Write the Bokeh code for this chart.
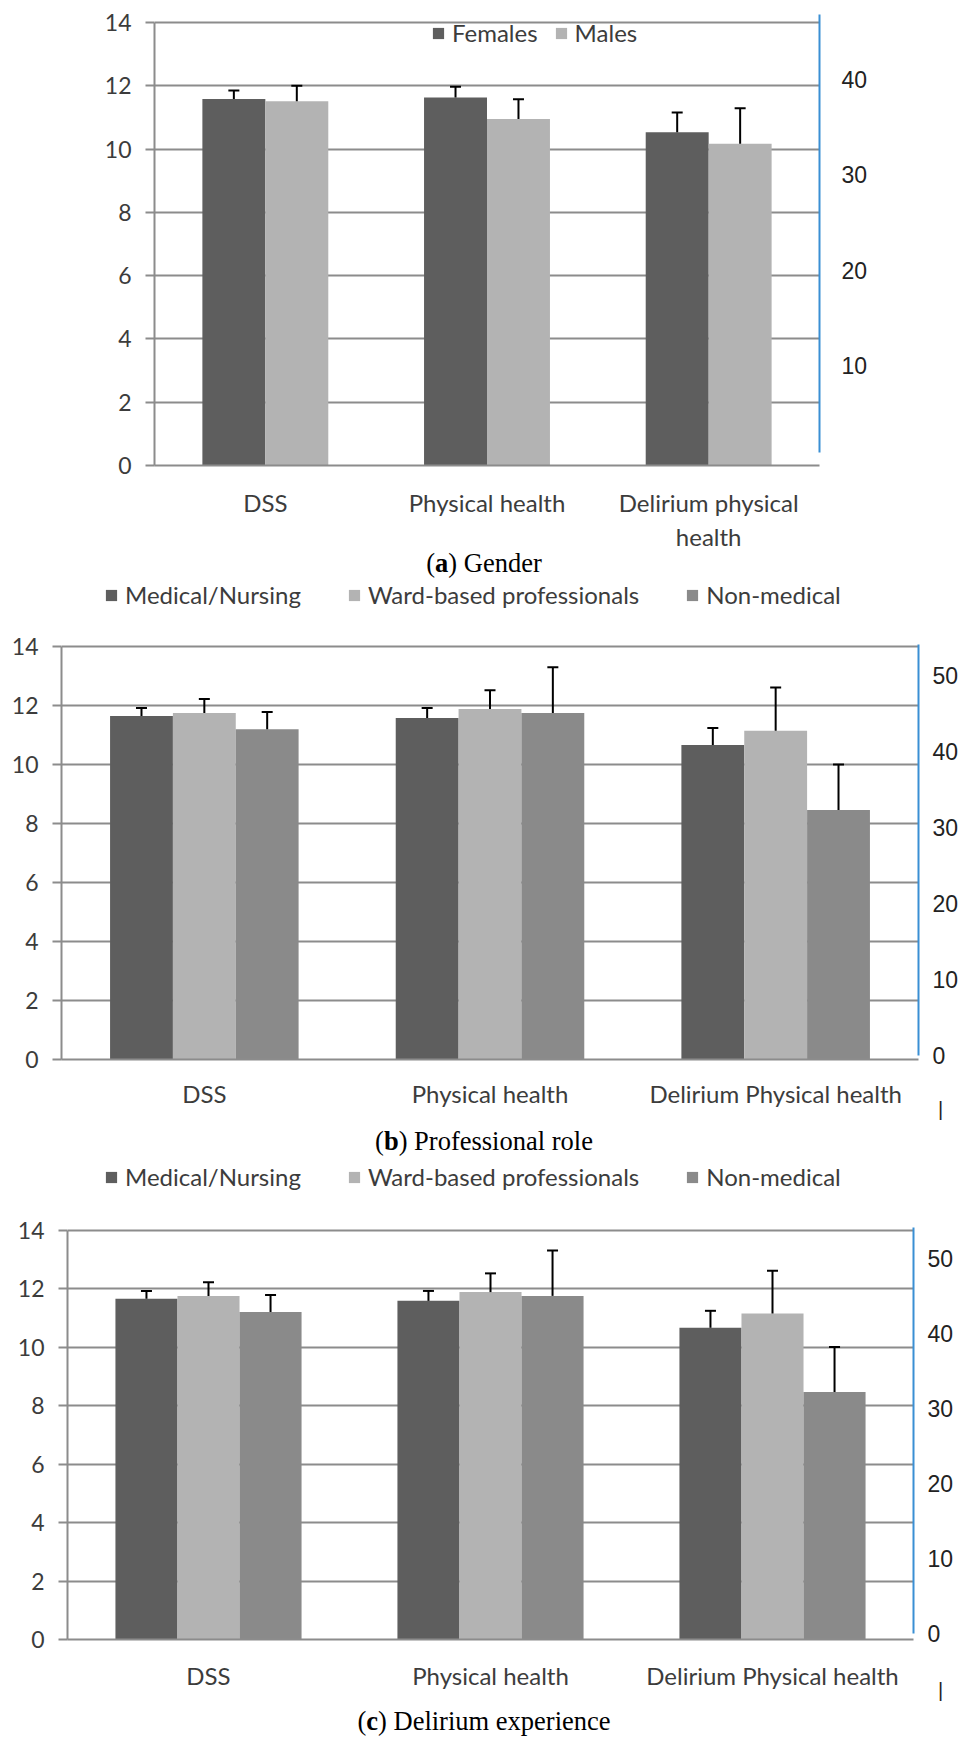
from bokeh.plotting import figure
from bokeh.models import (Range1d, LinearAxis, ColumnDataSource, Whisker, TeeHead,
                          Legend, LegendItem, Div)
from bokeh.transform import dodge
from bokeh.embed import file_html
from bokeh.resources import INLINE

# ---------------- data ----------------
# (a) Gender
cats_a = ["DSS", "Physical health", "Delirium physical\nhealth"]
females = [11.58, 11.63, 10.53]
females_err = [0.27, 0.34, 0.62]
males = [11.51, 10.95, 10.17]
males_err = [0.49, 0.62, 1.12]

# (b) Professional role
cats_b = ["DSS", "Physical health", "Delirium Physical health"]
medical_b = [11.65, 11.58, 10.66]
medical_b_err = [0.27, 0.34, 0.58]
ward_b = [11.75, 11.88, 11.15]
ward_b_err = [0.47, 0.64, 1.46]
nonmed_b = [11.20, 11.75, 8.46]
nonmed_b_err = [0.58, 1.55, 1.54]

# (c) Delirium experience
cats_c = ["DSS", "Physical health", "Delirium Physical health"]
medical_c = [11.65, 11.58, 10.66]
medical_c_err = [0.27, 0.34, 0.58]
ward_c = [11.75, 11.88, 11.15]
ward_c_err = [0.47, 0.64, 1.46]
nonmed_c = [11.20, 11.75, 8.46]
nonmed_c_err = [0.58, 1.55, 1.54]

left_ticks = [0, 2, 4, 6, 8, 10, 12, 14]
right_ticks_a = [10, 20, 30, 40]
right_ticks_bc = [0, 10, 20, 30, 40, 50]

names_a = ["Females", "Males"]
names_bc = ["Medical/Nursing", "Ward-based professionals", "Non-medical"]

# ---------------- style ----------------
DARK = "#5e5e5e"
LIGHT = "#b3b3b3"
MID = "#8a8a8a"
GRID = "#8c8c8c"
BLUE = "#3a8fd4"
TXT = "#3c3c3c"
FONT = "Lato"
RFONT = "Liberation Sans"
W = 968


def panel(cats, series, errs, names, colors, offsets, bar_w,
          frame_w, frame_h, b_left, b_top, b_bottom, y_end,
          r_range, r_ticks, r_bounds, r_standoff, leg_xy, leg_spacing,
          cat_standoff):
    p = figure(x_range=cats, y_range=Range1d(0, y_end),
               frame_width=frame_w, frame_height=frame_h,
               min_border_left=b_left, min_border_right=W - b_left - frame_w,
               min_border_top=b_top, min_border_bottom=b_bottom,
               output_backend="svg", toolbar_location=None,
               background_fill_color="white", border_fill_color="white")
    p.outline_line_color = None
    p.xgrid.grid_line_color = None
    p.ygrid.ticker = left_ticks
    p.ygrid.grid_line_color = GRID
    p.ygrid.grid_line_width = 2

    ya = p.yaxis[0]
    ya.ticker = left_ticks
    ya.bounds = (0, 14)
    ya.axis_line_color = GRID
    ya.axis_line_width = 2
    ya.major_tick_line_color = GRID
    ya.major_tick_line_width = 2
    ya.major_tick_out = 9
    ya.major_tick_in = 0
    ya.minor_tick_line_color = None
    ya.major_label_standoff = 14
    ya.major_label_text_font = FONT
    ya.major_label_text_font_size = "23px"
    ya.major_label_text_color = TXT

    xa = p.xaxis[0]
    xa.axis_line_color = GRID
    xa.axis_line_width = 2
    xa.major_tick_line_color = None
    xa.major_tick_out = 0
    xa.major_tick_in = 0
    xa.minor_tick_line_color = None
    xa.major_label_standoff = cat_standoff
    xa.major_label_text_font = FONT
    xa.major_label_text_font_size = "24px"
    xa.major_label_text_color = TXT

    p.extra_y_ranges = {"r": Range1d(*r_range)}
    ra = LinearAxis(y_range_name="r", ticker=r_ticks, bounds=r_bounds,
                    axis_line_color=BLUE, axis_line_width=2,
                    major_tick_line_color=None, minor_tick_line_color=None,
                    major_tick_out=0, major_tick_in=0,
                    major_label_standoff=r_standoff,
                    major_label_text_font=RFONT,
                    major_label_text_font_size="23px",
                    major_label_text_color="#222222")
    p.add_layout(ra, "right")

    items = []
    for vals, err, name, col, off in zip(series, errs, names, colors, offsets):
        upper = [v + e for v, e in zip(vals, err)]
        src = ColumnDataSource(dict(x=cats, top=vals, upper=upper))
        r = p.vbar(x=dodge("x", off, range=p.x_range), top="top", width=bar_w,
                   source=src, fill_color=col, line_color=None)
        wk = Whisker(source=src, base=dodge("x", off, range=p.x_range),
                     upper="upper", lower="top", dimension="height",
                     line_color="black", line_width=2,
                     upper_head=TeeHead(size=11, line_width=2, line_color="black"),
                     lower_head=None, level="overlay")
        p.add_layout(wk)
        items.append(LegendItem(label=name, renderers=[r]))

    leg = Legend(items=items, orientation="horizontal", location=leg_xy,
                 padding=0, margin=0, spacing=leg_spacing, label_standoff=7,
                 glyph_width=14, glyph_height=14,
                 label_text_font=FONT, label_text_font_size="24px",
                 label_text_color=TXT, border_line_color=None,
                 background_fill_alpha=0)
    p.add_layout(leg)
    return p


def caption(letter, rest, mark_h, lh, total_h, shift=0):
    html = ""
    if mark_h:
        html += ('<div style="width:%dpx;padding-left:938px;box-sizing:border-box;'
                 'height:%dpx;line-height:%dpx;overflow:visible;position:relative;'
                 'top:-10px;font-family:\'Liberation Sans\';font-size:20px;'
                 'color:#222;">|</div>' % (W, mark_h, mark_h))
    html += ('<div style="width:%dpx;text-align:center;height:%dpx;line-height:%dpx;'
             'position:relative;top:%dpx;">(<b>%s</b>) %s</div>'
             % (W, lh, lh, shift, letter, rest))
    return Div(text=html, width=W, height=total_h, margin=(0, 0, 0, 0),
               styles={"font-family": "Liberation Serif", "font-size": "26.5px",
                       "color": "#000000", "width": "%dpx" % W,
                       "margin": "0", "padding": "0"})


# panel (a): page rows 0-554
pa = panel(cats_a, [females, males], [females_err, males_err], names_a,
           [DARK, LIGHT], [-0.142, 0.142], 0.284,
           frame_w=665, frame_h=451, b_left=154, b_top=14, b_bottom=89,
           y_end=14.25, r_range=(-0.41, 46.76), r_ticks=right_ticks_a,
           r_bounds=(0.92, 46.76), r_standoff=22, leg_xy=(277, 418),
           leg_spacing=16, cat_standoff=22)
da = caption("a", "Gender", 0, 20, 26, shift=-9)

# panel (b): page rows 580-1113
pb = panel(cats_b, [medical_b, ward_b, nonmed_b],
           [medical_b_err, ward_b_err, nonmed_b_err], names_bc,
           [DARK, LIGHT, MID], [-0.22, 0.0, 0.22], 0.22,
           frame_w=857, frame_h=479, b_left=61, b_top=0, b_bottom=54,
           y_end=16.24, r_range=(-0.53, 62.5), r_ticks=right_ticks_bc,
           r_bounds=(0, 54.08), r_standoff=14, leg_xy=(43, 450),
           leg_spacing=46, cat_standoff=19)
db = caption("b", "Professional role", 13, 30, 47)

# panel (c): page rows 1160-1694
pc = panel(cats_c, [medical_c, ward_c, nonmed_c],
           [medical_c_err, ward_c_err, nonmed_c_err], names_bc,
           [DARK, LIGHT, MID], [-0.22, 0.0, 0.22], 0.22,
           frame_w=846, frame_h=479, b_left=67, b_top=0, b_bottom=55,
           y_end=16.38, r_range=(-0.8, 63.07), r_ticks=right_ticks_bc,
           r_bounds=(0, 54.13), r_standoff=14, leg_xy=(37, 448),
           leg_spacing=46, cat_standoff=21)
dc = caption("c", "Delirium experience", 12, 30, 44)

open("out.html", "w").write(file_html([pa, da, pb, db, pc, dc], INLINE))
